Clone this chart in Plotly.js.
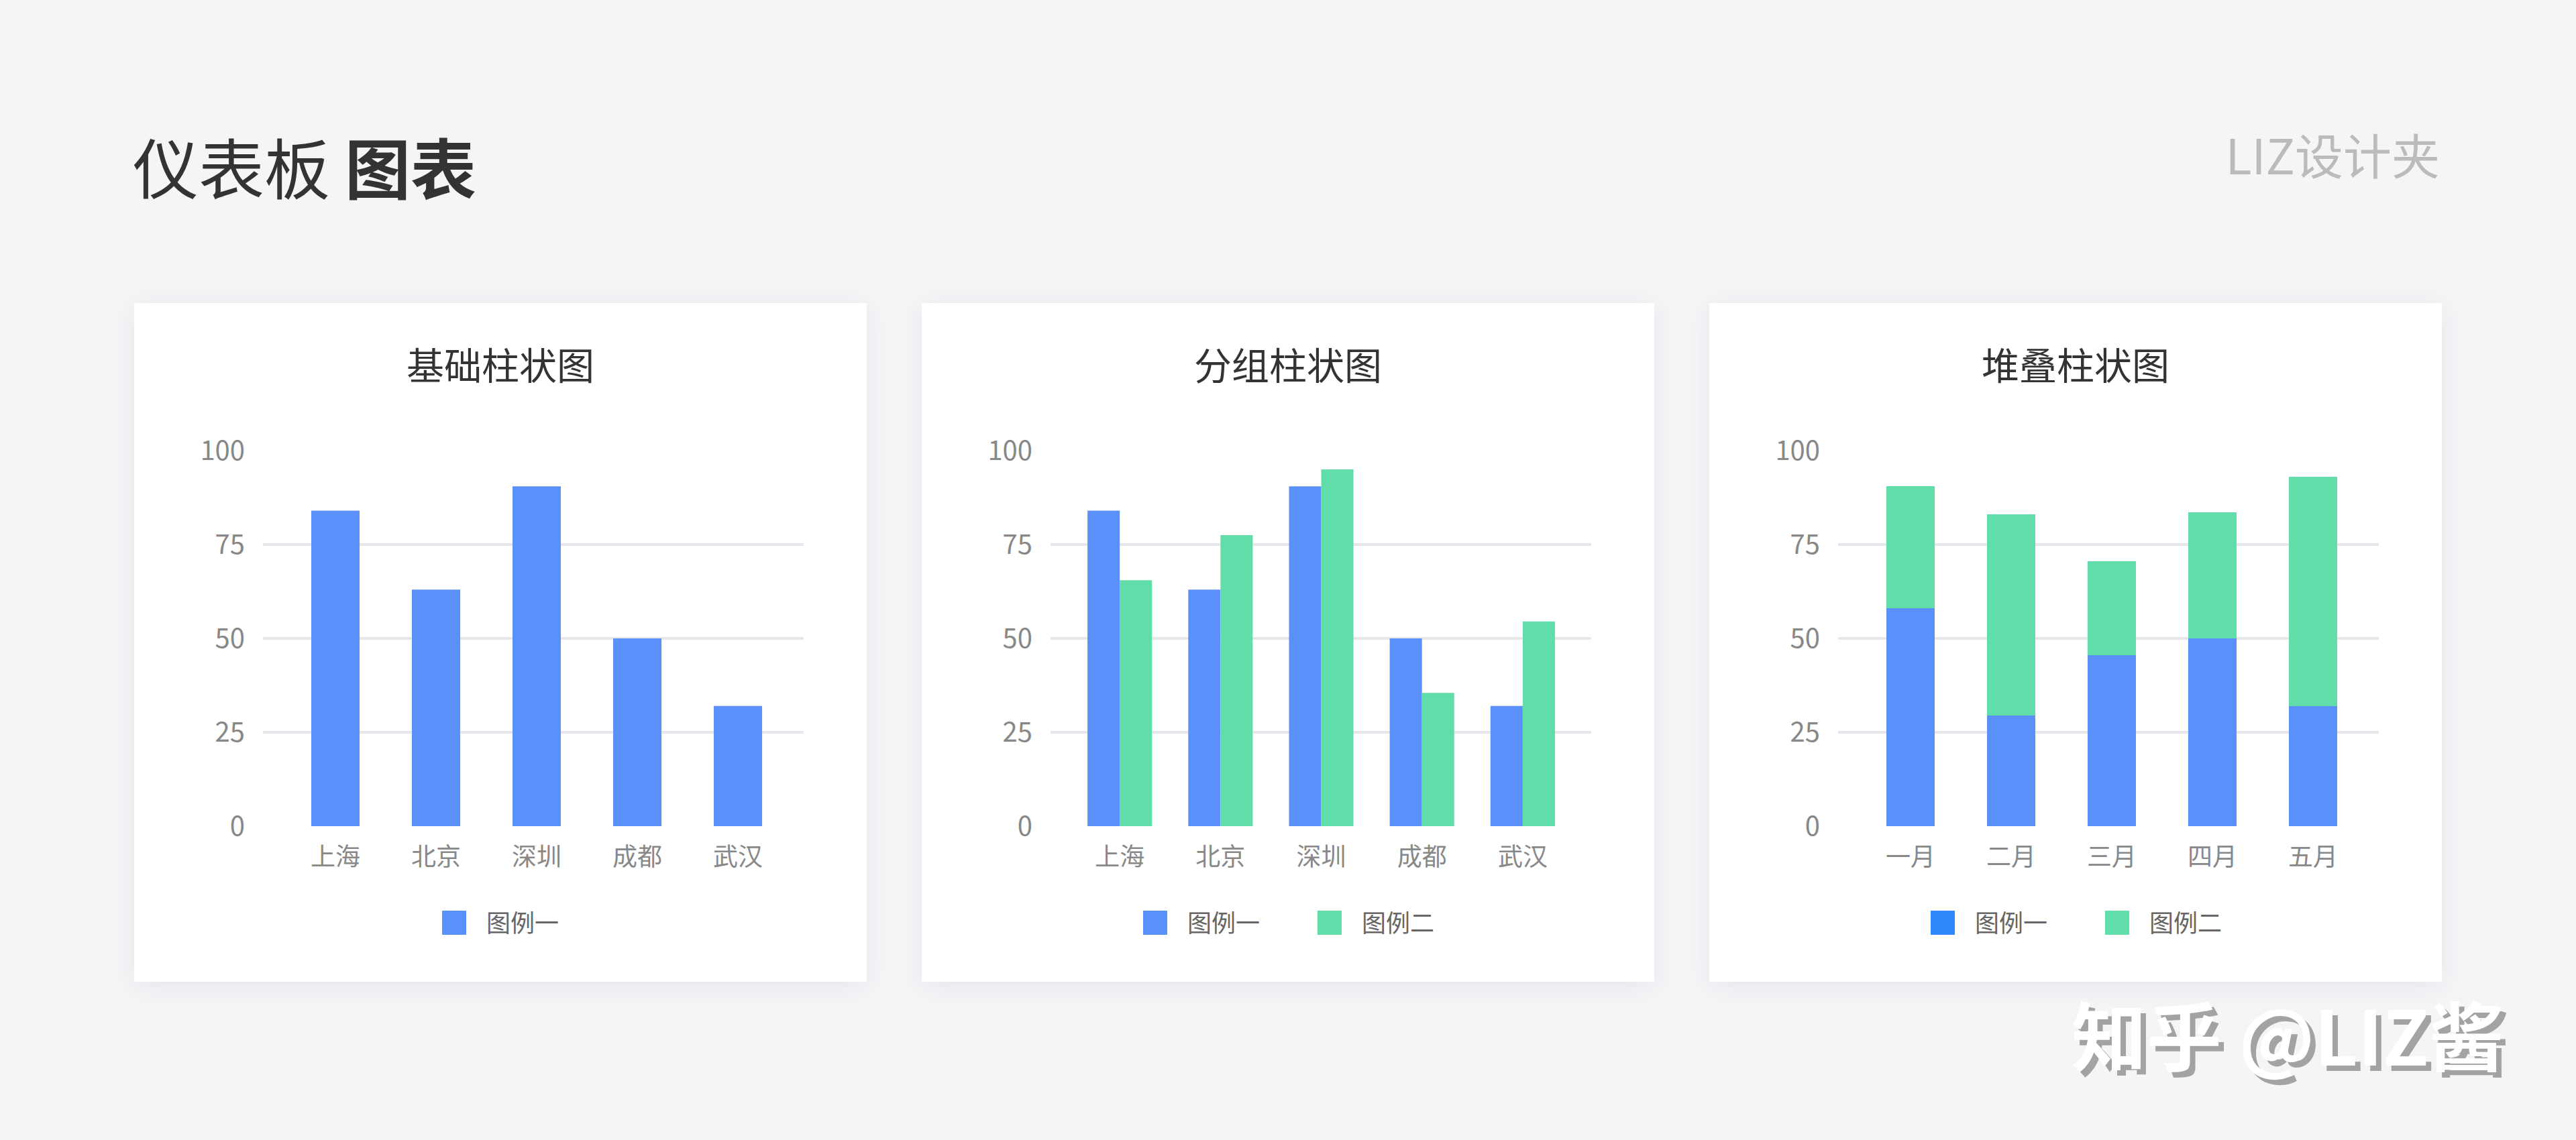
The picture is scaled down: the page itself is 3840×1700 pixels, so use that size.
<!DOCTYPE html>
<html>
<head>
<meta charset="utf-8">
<script src="https://cdn.plot.ly/plotly-3.0.1.min.js"></script>
<style>
  html, body { margin: 0; padding: 0; }
  body { width: 3840px; height: 1700px; background: #F4F5F7; position: relative; overflow: hidden;
         font-family: "Noto Sans CJK SC", "Noto Sans", sans-serif; }
  .card { position: absolute; top: 452px; width: 1092px; height: 1012px; background: #ffffff;
          box-shadow: 0 6px 36px rgba(30, 40, 60, 0.07); }
  #page-title { position: absolute; left: 198px; top: 197px; font-size: 98px; line-height: 1; color: #333333; white-space: nowrap; }
  #page-title b { font-weight: 700; }
  #brand { position: absolute; right: 203px; top: 193px; font-size: 72px; line-height: 1; color: #BBBBBB; white-space: nowrap; }
  #watermark { position: absolute; left: 3088px; top: 1484px; font-size: 112px; line-height: 1; font-weight: 700;
               color: #ffffff; text-shadow: 8px 8px 0 #a3a3a3; white-space: nowrap; }
  .legend .legendpoints path { transform: translate(48px, 0px) scale(3); }
  #chart3 .legend .traces:first-child .legendpoints path { fill: #2D88F8 !important; }
</style>
</head>
<body>
<div id="page-title">仪表板 <b>图表</b></div>
<div id="brand">LIZ设计夹</div>

<div class="card" style="left:200px;"><div id="chart1"></div></div>
<div class="card" style="left:1374px;"><div id="chart2"></div></div>
<div class="card" style="left:2548px;"><div id="chart3"></div></div>

<div id="watermark">知乎 @LIZ酱</div>

<script>
// ---------------- data ----------------
const cityCategories  = ['上海', '北京', '深圳', '成都', '武汉'];
const monthCategories = ['一月', '二月', '三月', '四月', '五月'];
const seriesNames     = ['图例一', '图例二'];
const chartTitles     = ['基础柱状图', '分组柱状图', '堆叠柱状图'];
const yTickValues     = [0, 25, 50, 75, 100];

const basicValues  = [84, 63, 90.5, 50, 32];
const groupSeries1 = [84, 63, 90.5, 50, 32];
const groupSeries2 = [65.5, 77.5, 95, 35.5, 54.5];
const stackSeries1 = [58, 29.5, 45.5, 50, 32];
const stackSeries2 = [32.5, 53.5, 25, 33.5, 61];

// ---------------- styles ----------------
const FONT = '"Noto Sans CJK SC", "Noto Sans", sans-serif';
const BLUE = '#5B8FF9';
const GREEN = '#61DDAA';
const W = 1092, H = 1012;

function baseLayout(title, xRange, legendX) {
  return {
    width: W, height: H,
    margin: { l: 192, r: 94, t: 220, b: 232, pad: 0 },
    paper_bgcolor: 'rgba(0,0,0,0)',
    plot_bgcolor: 'rgba(0,0,0,0)',
    font: { family: FONT, size: 37, color: '#888888' },
    title: { text: title, font: { family: FONT, size: 56, color: '#333333' },
             x: 0.5, xref: 'container', xanchor: 'center',
             y: 1 - 94 / H, yref: 'container', yanchor: 'middle' },
    xaxis: { type: 'category', range: xRange, showgrid: false, zeroline: false, showline: false,
             ticks: '', tickfont: { family: FONT, size: 37, color: '#888888' }, ticklabelstandoff: 21,
             fixedrange: true },
    yaxis: { range: [0, 100], tickmode: 'array', tickvals: yTickValues, showgrid: true,
             gridcolor: '#E6E7ED', gridwidth: 4, zeroline: false, showline: false, ticks: '',
             tickfont: { family: FONT, size: 40, color: '#888888' }, ticklabelstandoff: 26,
             fixedrange: true },
    showlegend: true,
    legend: { orientation: 'h', xref: 'container', yref: 'container',
              x: legendX, xanchor: 'left', y: 1 - 924 / H, yanchor: 'middle',
              font: { family: FONT, size: 36, color: '#666666' },
              itemwidth: 86, entrywidth: 159, bgcolor: 'rgba(0,0,0,0)', borderwidth: 0 },
    hovermode: false
  };
}

const config = { staticPlot: true, displayModeBar: false };

// Chart 1: basic
const l1 = baseLayout(chartTitles[0], [-0.72, 4.653], 429 / W);
l1.bargap = 0.52;
Plotly.newPlot('chart1', [
  { type: 'bar', x: cityCategories, y: basicValues, name: seriesNames[0], marker: { color: BLUE } }
], l1, config);

// Chart 2: grouped
const l2 = baseLayout(chartTitles[1], [-0.687, 4.68], 300 / W);
l2.barmode = 'group';
l2.bargap = 0.36;
l2.bargroupgap = 0;
Plotly.newPlot('chart2', [
  { type: 'bar', x: cityCategories, y: groupSeries1, name: seriesNames[0], marker: { color: BLUE } },
  { type: 'bar', x: cityCategories, y: groupSeries2, name: seriesNames[1], marker: { color: GREEN } }
], l2, config);

// Chart 3: stacked
const l3 = baseLayout(chartTitles[2], [-0.72, 4.653], 300 / W);
l3.barmode = 'stack';
l3.bargap = 0.52;
l3.legend.traceorder = 'normal';
Plotly.newPlot('chart3', [
  { type: 'bar', x: monthCategories, y: stackSeries1, name: seriesNames[0], marker: { color: BLUE } },
  { type: 'bar', x: monthCategories, y: stackSeries2, name: seriesNames[1], marker: { color: GREEN } }
], l3, config);
</script>
</body>
</html>
